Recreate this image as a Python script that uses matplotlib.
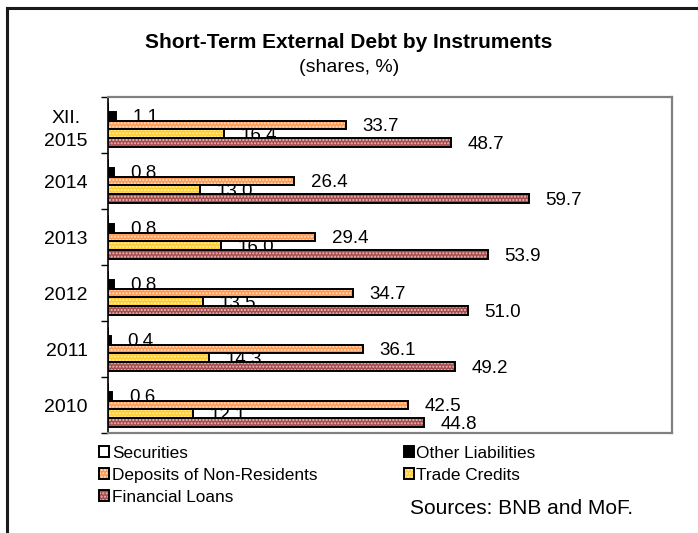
import matplotlib
matplotlib.use("Agg")
import matplotlib.pyplot as plt
from matplotlib.patches import Patch
from matplotlib.lines import Line2D
from matplotlib.legend_handler import HandlerTuple
import numpy as np

plt.rcParams['font.family'] = ['Liberation Sans', 'DejaVu Sans']
plt.rcParams['hatch.linewidth'] = 1.0

categories = ["2010", "2011", "2012", "2013", "2014", "XII.\n2015"]
securities = [0.0, 0.0, 0.0, 0.0, 0.0, 0.0]
other_liabilities = [0.6, 0.4, 0.8, 0.8, 0.8, 1.1]
deposits = [42.5, 36.1, 34.7, 29.4, 26.4, 33.7]
trade_credits = [12.1, 14.3, 13.5, 16.0, 13.0, 16.4]
financial_loans = [44.8, 49.2, 51.0, 53.9, 59.7, 48.7]

series_names = ["Securities", "Other Liabilities", "Deposits of Non-Residents",
                "Trade Credits", "Financial Loans"]
series_vals = [securities, other_liabilities, deposits, trade_credits, financial_loans]
fills = ["white", "black", "#FF9A55", "#FFCC33", "#A84B4B"]
dots = [None, None, "#FFE2C8", "#FFF2A8", "#E9BDBD"]
show_labels = [False, True, True, True, True]
HATCH = '.....'

W, H = 698, 533
fig = plt.figure(figsize=(W / 100, H / 100), dpi=100)
ax = fig.add_axes([108 / W, 1 - 433 / H, (672 - 108) / W, (433 - 97) / H])

y = np.arange(len(categories))
bh = 0.16
offsets = [2 * bh, bh, 0, -bh, -2 * bh]

for vals, off, fc, dc, lab in zip(series_vals, offsets, fills, dots, show_labels):
    pos = y + off
    if dc is not None:
        ax.barh(pos, vals, height=bh, color=fc, edgecolor=dc, hatch=HATCH,
                linewidth=0, zorder=3)
        ax.barh(pos, vals, height=bh, fill=False, edgecolor='black',
                linewidth=1.4, zorder=4)
    else:
        ax.barh(pos, vals, height=bh, color=fc, edgecolor='black',
                linewidth=1.4, zorder=4)
    if lab:
        for p, v in zip(pos, vals):
            ax.annotate(f"{v:.1f}", xy=(v, p), xytext=(12, -1),
                        textcoords='offset points', ha='left', va='center',
                        fontsize=13.5, color='black', zorder=2)

ax.set_xlim(0, 80)
ax.set_ylim(-0.5, len(categories) - 0.5)
ax.set_xticks([])
ax.set_yticks(y)
ax.set_yticklabels(categories, fontsize=14, linespacing=1.45)
for t in ax.get_yticklabels():
    t.set_multialignment('center')
ax.tick_params(axis='y', which='major', length=0, pad=14.5)
ax.set_yticks(np.arange(len(categories) + 1) - 0.5, minor=True)
ax.tick_params(axis='y', which='minor', length=5, width=1.0, color='black')

ax.spines['left'].set_color('black')
ax.spines['left'].set_linewidth(1.2)
for s in ['top', 'right', 'bottom']:
    ax.spines[s].set_color('#808080')
    ax.spines[s].set_linewidth(1.6)

# Title
fig.text(0.5, 1 - 42 / H, "Short-Term External Debt by Instruments",
         ha='center', va='center', fontsize=15, fontweight='bold')
fig.text(0.5, 1 - 67 / H, "(shares, %)", ha='center', va='center', fontsize=14)

# Legend
def make_handle(i):
    if dots[i] is None:
        return Patch(facecolor=fills[i], edgecolor='black', linewidth=1.4)
    return (Patch(facecolor=fills[i], edgecolor=dots[i], hatch=HATCH, linewidth=0),
            Patch(fill=False, edgecolor='black', linewidth=1.4))

order = [0, 2, 4, 1, 3]
handles = [make_handle(i) for i in order]
labels = [series_names[i] for i in order]
leg = fig.legend(handles, labels, ncol=2, loc='upper left',
                 bbox_to_anchor=(99 / W, 1 - 446 / H),
                 frameon=False, fontsize=12.4, handlelength=0.6, handleheight=0.6,
                 handletextpad=0.15, columnspacing=5.0, labelspacing=0.4,
                 borderaxespad=0, borderpad=0,
                 handler_map={tuple: HandlerTuple(ndivide=1, pad=0)})

fig.text(410 / W, 1 - 508 / H, "Sources: BNB and MoF.", ha='left', va='center',
         fontsize=15)

# Outer frame (top and left edges visible)
fig.add_artist(Line2D([7 / W, 1.0], [1 - 8 / H, 1 - 8 / H], color='#1a1a1a',
                      linewidth=2.2, transform=fig.transFigure))
fig.add_artist(Line2D([7 / W, 7 / W], [1 - 8 / H, 0.0], color='#1a1a1a',
                      linewidth=2.2, transform=fig.transFigure))

fig.savefig("out.png", dpi=100)
